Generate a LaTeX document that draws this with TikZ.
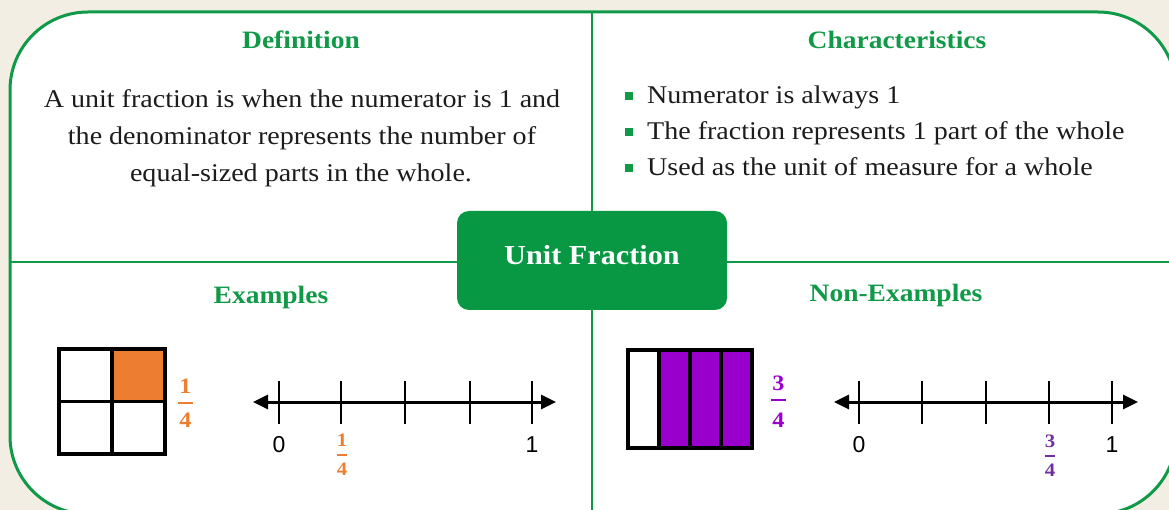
\documentclass[tikz,border=0pt]{standalone}
\usepackage{fontspec}
\setmainfont[FakeStretch=1.1]{Liberation Serif}
\setsansfont{Liberation Sans}
\usetikzlibrary{arrows.meta}
\definecolor{frameG}{RGB}{16,154,72}
\definecolor{boxG}{RGB}{8,152,68}
\definecolor{bgBeige}{RGB}{242,238,227}
\definecolor{oran}{RGB}{237,125,49}
\definecolor{purp}{RGB}{153,0,204}
\definecolor{purpB}{RGB}{112,48,160}
\definecolor{txt}{RGB}{28,28,28}
\begin{document}
\begin{tikzpicture}[x=1pt,y=-1pt,
  divider/.style={draw=frameG, line width=2pt},
  heading/.style={text=frameG, font=\bfseries\fontsize{25}{30}\selectfont, anchor=base, inner sep=0pt},
  body/.style={text=txt, font=\fontsize{25.5}{37}\selectfont, anchor=base, inner sep=0pt},
  bullettext/.style={body, anchor=base west},
  bulletsq/.style={fill=frameG, minimum size=7.5pt, inner sep=0pt},
  cell/.style={draw=black, line width=3.2pt},
  nline/.style={draw=black, line width=3pt, {Triangle[length=15pt,width=14pt]}-{Triangle[length=15pt,width=14pt]}},
  tick/.style={draw=black, line width=2.4pt},
  numlab/.style={font=\sffamily\fontsize{23}{26}\selectfont, text=black, anchor=base, inner sep=0pt},
  bigdig/.style={font=\bfseries\fontsize{22}{22}\selectfont, anchor=base, inner sep=0pt},
  smalldig/.style={font=\bfseries\fontsize{19}{19}\selectfont, anchor=base, inner sep=0pt},
  fbar/.style={line width=2.4pt}]
\useasboundingbox (0,0) rectangle (1169,510);
\fill[bgBeige] (0,0) rectangle (1169,510);
\begin{scope}
\clip (0,0) rectangle (1169,510);
\draw[frameG, line width=3pt, fill=white, rounded corners=78pt] (10,12) rectangle (1176,514);
\coordinate (vt) at (592,12);
\coordinate (vb) at (592,512);
\coordinate (hl) at (10,262);
\coordinate (hr) at (1176,262);
\draw[divider] (vt) -- (vb);
\draw[divider] (hl) -- (hr);
\end{scope}

% central box
\node[fill=boxG, rounded corners=12pt, minimum width=270pt, minimum height=99pt, inner sep=0pt] (core) at (592,260.5) {};
\node[text=white, font=\bfseries\fontsize{27.5}{30}\selectfont, anchor=base, inner sep=0pt] (coretxt) at (592,265) {Unit Fraction};

% headings
\node[heading] (hdef) at (301,49) {Definition};
\node[heading] (hchar) at (897,49) {Characteristics};
\node[heading] (hex) at (271,304) {Examples};
\node[heading] (hnon) at (896,302) {Non-Examples};

% definition
\node[body] (d1) at (302,108) {A unit fraction is when the numerator is 1 and};
\node[body] (d2) at (302,145) {the denominator represents the number of};
\node[body] (d3) at (301,182) {equal-sized parts in the whole.};

% characteristics
\node[bulletsq] (b1) at (629,96) {};
\node[bulletsq] (b2) at (629,132) {};
\node[bulletsq] (b3) at (629,168) {};
\node[bullettext] (c1) at (647,104) {Numerator is always 1};
\node[bullettext] (c2) at (647,140) {The fraction represents 1 part of the whole};
\node[bullettext] (c3) at (647,176) {Used as the unit of measure for a whole};

% example grid
\fill[oran] (112,349) rectangle (165,401.5);
\draw[cell] (59,349) rectangle (165,454);
\draw[cell] (112,349) -- (112,454);
\draw[cell] (59,401.5) -- (165,401.5);
\node[bigdig, text=oran] (f1n) at (185.5,393) {1};
\draw[fbar, oran] (178,403) -- (193,403);
\node[bigdig, text=oran] (f1d) at (185.5,427) {4};

% number line 1
\coordinate (n1a) at (253,402);
\coordinate (n1b) at (556,402);
\draw[nline] (n1a) -- (n1b);
\foreach \x in {279,341,405,470,532} \draw[tick] (\x,381) -- (\x,424);
\node[numlab] (z1) at (279,452) {0};
\node[numlab] (o1) at (532,452) {1};
\node[smalldig, text=oran] (q1n) at (342,446) {1};
\draw[fbar, oran, line width=1.6pt] (337,455) -- (347,455);
\node[smalldig, text=oran] (q1d) at (342,475) {4};

% non-example bar
\fill[purp] (659,350) rectangle (752,448);
\draw[cell] (628,350) rectangle (752,448);
\foreach \x in {659,690,721} \draw[cell] (\x,350) -- (\x,448);
\node[bigdig, text=purp] (f2n) at (778.5,390) {3};
\draw[fbar, purp] (771,400) -- (786,400);
\node[bigdig, text=purp] (f2d) at (778.5,427) {4};

% number line 2
\coordinate (n2a) at (834,402);
\coordinate (n2b) at (1138,402);
\draw[nline] (n2a) -- (n2b);
\foreach \x in {859,922,986,1049,1112} \draw[tick] (\x,381) -- (\x,424);
\node[numlab] (z2) at (859,452) {0};
\node[numlab] (o2) at (1112,452) {1};
\node[smalldig, text=purpB] (q2n) at (1050,447) {3};
\draw[fbar, purpB, line width=1.6pt] (1045,456) -- (1055,456);
\node[smalldig, text=purpB] (q2d) at (1050,476) {4};
\end{tikzpicture}
\end{document}
